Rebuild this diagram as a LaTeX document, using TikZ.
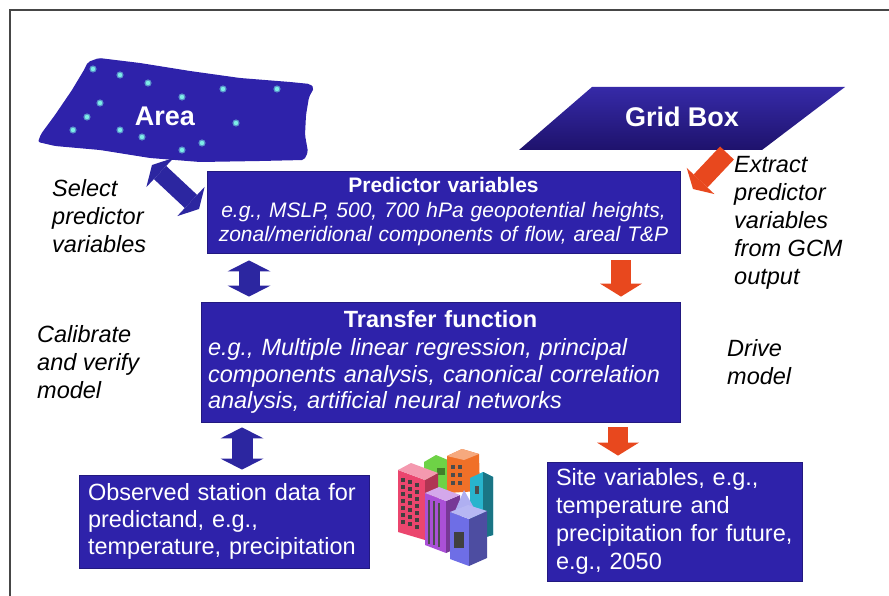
\documentclass[tikz,border=0pt]{standalone}
\usepackage{fontspec}
\setmainfont{Liberation Sans}
\usetikzlibrary{arrows.meta,calc}
\definecolor{boxblue}{RGB}{46,34,170}
\definecolor{arrowblue}{RGB}{44,38,160}
\definecolor{arrowred}{RGB}{232,72,30}
\definecolor{dotcyan}{RGB}{125,238,232}
\definecolor{gridtop}{RGB}{54,42,168}
\definecolor{gridbot}{RGB}{30,18,108}
\definecolor{framegray}{RGB}{70,70,70}
\definecolor{bgreen}{RGB}{110,210,70}
\definecolor{borange}{RGB}{240,112,40}
\definecolor{bcyan}{RGB}{40,180,205}
\definecolor{bpink}{RGB}{235,70,110}
\definecolor{bpurple}{RGB}{170,80,215}
\definecolor{btower}{RGB}{110,110,230}
\begin{document}
\begin{tikzpicture}[x=1pt,y=-1pt,
  font=\fontsize{23.5}{28}\selectfont,
  box/.style={fill=boxblue, draw=boxblue!75!black, line width=0.8pt, text=white, inner ysep=0pt},
  sidelabel/.style={inner sep=0pt, anchor=west, align=left, font=\fontsize{23.5}{28}\selectfont\itshape},
  heading/.style={text=white, inner sep=0pt, font=\fontsize{27}{30}\selectfont\bfseries},
  bluedbl/.style={draw=arrowblue, line width=21pt,
    {Triangle[length=11pt,width=43pt,line width=0pt]}-{Triangle[length=11pt,width=43pt,line width=0pt]}},
  bluediag/.style={draw=arrowblue, line width=18pt,
    {Triangle[length=11pt,width=40pt,line width=0pt]}-{Triangle[length=11pt,width=40pt,line width=0pt]}},
  reddown/.style={draw=arrowred, line width=20pt,
    -{Triangle[length=13pt,width=42pt,line width=0pt]}},
  reddiag/.style={draw=arrowred, line width=19pt,
    -{Triangle[length=11pt,width=38pt,line width=0pt]}},
]
\useasboundingbox (0,0) rectangle (889,596);

% open frame round the figure
\draw[framegray, line width=2pt] (10,596) -- (10,10) -- (889,10);

% ---- area with stations ----
\fill[boxblue, rounded corners=2pt]
  (88,62) -- (99,58) -- (140,63) -- (190,71) -- (240,78) -- (290,82) -- (310,84)
  -- (314,88) -- (309,97) -- (306,115) -- (305,135) -- (308,152) -- (304,160)
  -- (260,161) -- (200,162) -- (150,158) -- (100,150) -- (55,146) -- (38,142)
  -- (41,134) -- (55,115) -- (72,90) -- (84,70) -- cycle;
\foreach \px/\py in {93/69,120/75,148/83,182/97,223/89,277/89,100/103,87/117,
                     73/130,120/130,142/137,202/143,182/150,236/123}{
  \fill[dotcyan!55!boxblue] (\px,\py) circle (3.6pt);
  \fill[dotcyan] (\px,\py) circle (2.2pt);
}
\node[heading] (area) at (165,116) {Area};

% ---- grid box ----
\shade[top color=gridtop, bottom color=gridbot]
  (519,150) -- (762,150) -- (845,87) -- (592,87) -- cycle;
\node[heading] (grid) at (682,117) {Grid Box};

% ---- main boxes ----
\node[box, minimum height=82pt, text width=473pt, inner xsep=0pt, align=center,
      font=\fontsize{21}{24.5}\selectfont] (pv) at (443.5,212)
  {\textbf{Predictor variables}\\
   \textit{e.g., MSLP, 500, 700 hPa geopotential heights,}\\
   \textit{zonal/meridional components of flow, areal T\&P}};

\node[box, minimum height=120pt, text width=465pt, inner xsep=7pt, align=left,
      font=\fontsize{23.5}{26.5}\selectfont] (tf) at (440.5,362)
  {\makebox[465pt][c]{\bfseries Transfer function}\\[1.5pt]
   \textit{e.g., Multiple linear regression, principal}\\
   \textit{components analysis, canonical correlation}\\
   \textit{analysis, artificial neural networks}};

\node[box, minimum height=93pt, text width=272pt, inner xsep=9pt, align=left,
      font=\fontsize{23.5}{27}\selectfont] (obs) at (224,521.5)
  {Observed station data for\\ predictand, e.g.,\\ temperature, precipitation};

\node[box, minimum height=119pt, text width=237pt, inner xsep=9pt, align=left,
      font=\fontsize{23.5}{28}\selectfont] (site) at (674.5,521.5)
  {Site variables, e.g.,\\ temperature and\\ precipitation for future,\\ e.g., 2050};

% ---- side labels ----
\node[sidelabel] (sel) at (52,216) {Select\\ predictor\\ variables};
\node[sidelabel] (cal) at (37,362) {Calibrate\\ and verify\\ model};
\node[sidelabel] (ext) at (734,223) {Extract\\ predictor\\ variables\\ from GCM\\ output};
\node[sidelabel] (drv) at (727,362) {Drive\\ model};

% ---- connectors ----
\coordinate (bx1) at (249,0);
\coordinate (bx2) at (242,0);
\coordinate (rx1) at (621,0);
\coordinate (rx2) at (618,0);
\draw[bluedbl, shorten <=7pt, shorten >=5pt] (pv.south -| bx1) -- (tf.north -| bx1);
\draw[bluedbl, shorten <=5pt, shorten >=5pt] (tf.south -| bx2) -- (obs.north -| bx2);
\draw[reddown, shorten <=7pt, shorten >=5pt] (pv.south -| rx1) -- (tf.north -| rx1);
\draw[reddown, shorten <=5pt, shorten >=6pt] (tf.south -| rx2) -- (site.north -| rx2);

\coordinate (areafoot) at (152,165);
\coordinate (pvside) at (199,209);
\draw[bluediag] (areafoot) -- (pvside);

\coordinate (gridfoot) at (727,153);
\coordinate (pvcorner) at (693,189);
\draw[reddiag] (gridfoot) -- (pvcorner);

% ---- city clip art ----
\fill[bgreen] (424,462) -- (436,455) -- (448,460) -- (448,492) -- (424,492) -- cycle;
\fill[bgreen!60!black] (437,468) rectangle (445,475);
\fill[borange] (447,456) -- (462,449) -- (479,454) -- (480,491) -- (447,493) -- cycle;
\fill[borange!60!white] (447,456) -- (462,449) -- (479,454) -- (464,460) -- cycle;
\foreach \yy in {465,473,481}{
  \fill[black!70] (451,\yy) rectangle ++(4,4);
  \fill[black!70] (458,\yy) rectangle ++(4,4);
}
\fill[bcyan] (470,478) -- (483,472) -- (493,477) -- (493,535) -- (470,541) -- cycle;
\fill[bcyan!65!black] (483,472) -- (493,477) -- (493,535) -- (483,538) -- cycle;
\fill[black!70] (475,486) rectangle ++(4,8);
% pink block
\fill[bpink] (398,470) -- (425,480) -- (425,540) -- (398,532) -- cycle;
\fill[bpink!75!black] (425,480) -- (438,473) -- (438,535) -- (425,540) -- cycle;
\fill[bpink!55!white] (398,470) -- (411,463) -- (438,473) -- (425,480) -- cycle;
\foreach \i in {0,1,2}{
  \foreach \j in {0,...,6}{
    \fill[black!75] ({401+7*\i},{478+7*\j+2.4*\i}) rectangle ++(4,4);
  }
}
% purple block
\fill[bpurple] (425,493) -- (446,501) -- (446,553) -- (425,545) -- cycle;
\fill[bpurple!70!black] (446,501) -- (460,495) -- (460,547) -- (446,553) -- cycle;
\fill[bpurple!50!white] (425,493) -- (439,487) -- (460,495) -- (446,501) -- cycle;
\foreach \xx/\dy in {429/1.5,434/3.4,439/5.3}{
  \draw[black!70, line width=1.6pt] (\xx,{498+\dy}) -- (\xx,{542+\dy});
}
% tower
\fill[btower!55!white] (455,511) -- (464,490) -- (474,508) -- cycle;
\fill[btower] (450,512) -- (469,519) -- (469,566) -- (450,559) -- cycle;
\fill[btower!70!black] (469,519) -- (487,511) -- (487,558) -- (469,566) -- cycle;
\fill[btower!50!white] (450,512) -- (468,505) -- (487,511) -- (469,519) -- cycle;
\fill[black!75] (454,532) rectangle (464,548);
\end{tikzpicture}
\end{document}
